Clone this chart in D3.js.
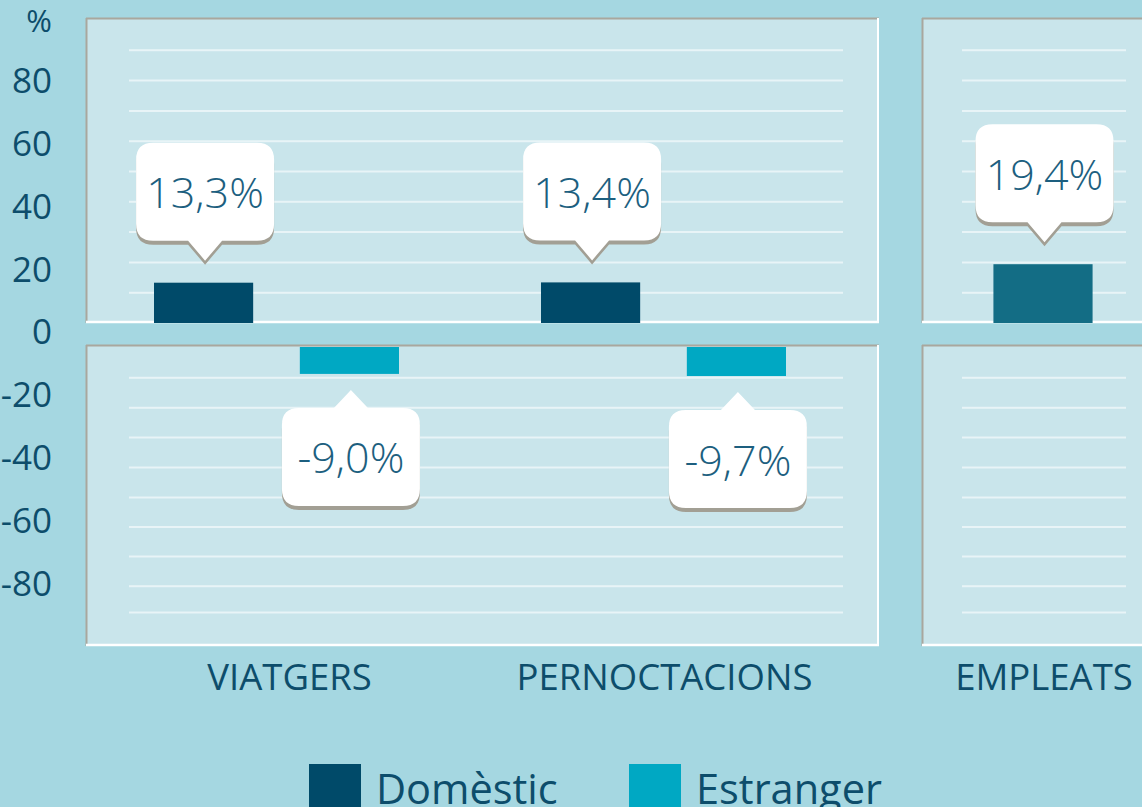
<!DOCTYPE html>
<html>
<head>
<meta charset="utf-8">
<script src="https://cdn.jsdelivr.net/npm/d3@7"></script>
<style>
  html, body { margin: 0; padding: 0; background: #a5d7e1; overflow: hidden; }
  svg { display: block; }
  text { font-family: "Open Sans", sans-serif; }
</style>
</head>
<body>
<svg id="chart" width="1142" height="807"></svg>
<script>
// ---- data ----
const categories = ["VIATGERS", "PERNOCTACIONS", "EMPLEATS"];
const seriesNames = ["Domèstic", "Estranger"];
const domestic = [13.3, 13.4];          // VIATGERS, PERNOCTACIONS
const estranger = [-9.0, -9.7];         // VIATGERS, PERNOCTACIONS
const empleats = [19.4];                // EMPLEATS
const yTickValues = [-80, -60, -40, -20, 0, 20, 40, 60, 80];
const yUnitLabel = "%";

// ---- style ----
const C = {
  bg: "#a5d7e1",
  panel: "#c9e5eb",
  grid: "#e8f4f7",
  borderDark: "#a9a79e",
  borderLight: "#ffffff",
  dom: "#004a69",
  est: "#00a8c3",
  emp: "#136d85",
  text: "#0d4d6b",
  callText: "#1d5f7f",
  shadow: "#a29f94"
};

const svg = d3.select("#chart");
svg.append("rect").attr("width", 1142).attr("height", 807).attr("fill", C.bg);

// vertical scales (two half-panels)
const yTop = d3.scaleLinear().domain([0, 100]).range([323, 20]);
const yBot = d3.scaleLinear().domain([0, -100]).range([347, 646]);
const topY0 = 18, topY1 = 323, botY0 = 345, botY1 = 646;

// label scale for the left axis
const yLab = d3.scaleLinear().domain([-80, 100]).range([582.5, 17.5]);

// panels
const panels = [
  { cats: [categories[0], categories[1]], x0: 86, x1: 879, bandRange: [83, 857], gx0: 129, gx1: 843 },
  { cats: [categories[2]], x0: 922, x1: 1166, bandRange: [922, 1164], gx0: 962, gx1: 1126 }
];
const gridTopVals = d3.range(10, 100, 10);
const gridBotVals = [-10.3, -20.3, -30.3, -40.3, -50.3, -60.2, -70.1, -80, -88.8];

panels.forEach(p => {
  [[topY0, topY1, gridTopVals, yTop], [botY0, botY1, gridBotVals, yBot]].forEach(([a, b, gv, ys]) => {
    const g = svg.append("g");
    g.append("rect").attr("x", p.x0).attr("y", a).attr("width", p.x1 - p.x0).attr("height", b - a).attr("fill", C.panel);
    g.selectAll("line.grid").data(gv).join("line")
      .attr("x1", p.gx0).attr("x2", p.gx1)
      .attr("y1", d => ys(d)).attr("y2", d => ys(d))
      .attr("stroke", C.grid).attr("stroke-width", 2);
    // bevel borders
    g.append("line").attr("x1", p.x0).attr("x2", p.x1).attr("y1", a + 0.5).attr("y2", a + 0.5).attr("stroke", C.borderDark).attr("stroke-width", 2);
    g.append("line").attr("x1", p.x0 + 0.5).attr("x2", p.x0 + 0.5).attr("y1", a).attr("y2", b).attr("stroke", C.borderDark).attr("stroke-width", 2);
    g.append("line").attr("x1", p.x0).attr("x2", p.x1).attr("y1", b - 1).attr("y2", b - 1).attr("stroke", C.borderLight).attr("stroke-width", 2.5);
    g.append("line").attr("x1", p.x1 - 1).attr("x2", p.x1 - 1).attr("y1", a).attr("y2", b).attr("stroke", C.borderLight).attr("stroke-width", 2);
  });
});

// x scales
const xLeft = d3.scaleBand().domain(panels[0].cats).range(panels[0].bandRange);
const xRight = d3.scaleBand().domain(panels[1].cats).range(panels[1].bandRange);
const xSub = d3.scaleBand().domain(seriesNames).range([-122.5, 122.5]).paddingInner(0.32);
const barW = xSub.bandwidth();
const center = c => (xLeft.domain().includes(c) ? xLeft(c) + xLeft.bandwidth() / 2 : xRight(c) + xRight.bandwidth() / 2);

// bar records
const bars = [];
panels[0].cats.forEach((c, i) => {
  bars.push({ cat: c, s: "Domèstic", v: domestic[i], x: center(c) + xSub("Domèstic"), color: C.dom });
  bars.push({ cat: c, s: "Estranger", v: estranger[i], x: center(c) + xSub("Estranger"), color: C.est });
});
panels[1].cats.forEach((c, i) => {
  bars.push({ cat: c, s: "Empleats", v: empleats[i], x: center(c) - barW / 2, color: C.emp });
});

svg.append("g").selectAll("rect").data(bars).join("rect")
  .attr("x", d => d.x)
  .attr("width", barW)
  .attr("y", d => d.v >= 0 ? yTop(d.v) : yBot(0))
  .attr("height", d => d.v >= 0 ? yTop(0) - yTop(d.v) : yBot(d.v) - yBot(0))
  .attr("fill", d => d.color);

// callouts
const locale = d3.formatLocale({ decimal: ",", thousands: ".", grouping: [3], currency: ["", "€"], minus: "-" });
const fmt = v => locale.format(".1f")(v) + "%";
function calloutPath(cx, tipY, up) {
  const w = 138, h = 98, r = 17, ph = up ? 18 : 20, pw = 17;
  const x0 = cx - w / 2, x1 = cx + w / 2;
  if (!up) {
    const yb = tipY - ph, yt = yb - h;
    return `M${x0 + r},${yt} H${x1 - r} Q${x1},${yt} ${x1},${yt + r} V${yb - r} Q${x1},${yb} ${x1 - r},${yb}` +
      ` H${cx + pw} L${cx},${tipY} L${cx - pw},${yb} H${x0 + r} Q${x0},${yb} ${x0},${yb - r} V${yt + r} Q${x0},${yt} ${x0 + r},${yt} Z`;
  } else {
    const yt = tipY + ph, yb = yt + h;
    return `M${x0 + r},${yt} H${cx - pw} L${cx},${tipY} L${cx + pw},${yt} H${x1 - r} Q${x1},${yt} ${x1},${yt + r} V${yb - r} Q${x1},${yb} ${x1 - r},${yb}` +
      ` H${x0 + r} Q${x0},${yb} ${x0},${yb - r} V${yt + r} Q${x0},${yt} ${x0 + r},${yt} Z`;
  }
}
svg.append("g").selectAll("g").data(bars).join("g").each(function (d) {
  const g = d3.select(this);
  const cx = d.x + barW / 2 + 1.5;
  const up = d.v < 0;
  const tipY = up ? yBot(d.v) + 16 : yTop(d.v) - 22;
  const path = calloutPath(cx, tipY, up);
  g.append("path").attr("d", path).attr("fill", C.shadow).attr("transform", "translate(0,4)");
  g.append("path").attr("d", path).attr("fill", "#ffffff");
  const midY = up ? tipY + 18 + 49 : tipY - 20 - 49;
  g.append("text").attr("x", cx).attr("y", midY).attr("text-anchor", "middle")
    .attr("dominant-baseline", "central")
    .attr("font-size", 43).attr("font-weight", 300).attr("fill", C.callText)
    .text(fmt(d.v));
});

// left axis labels
const yAxis = d3.axisLeft(yLab).tickValues(yTickValues.concat([100])).tickSize(0)
  .tickFormat(d => d === 100 ? yUnitLabel : String(d));
const ag = svg.append("g").attr("transform", "translate(52,0)").call(yAxis);
ag.select(".domain").remove();
ag.selectAll("text").attr("font-family", "Open Sans").attr("font-size", 35).attr("fill", C.text)
  .attr("x", 0).attr("dy", "0.36em");
ag.selectAll(".tick").filter(d => d === 100).select("text").attr("font-size", 31).attr("dy", "0.45em");

// category labels
svg.append("g").selectAll("text").data(categories).join("text")
  .attr("x", d => center(d) + (d === "VIATGERS" ? 13 : 1))
  .attr("y", 690)
  .attr("text-anchor", "middle")
  .attr("font-size", 36.5).attr("fill", C.text)
  .text(d => d);

// legend
const legendItems = [{ name: seriesNames[0], color: C.dom, x: 309 }, { name: seriesNames[1], color: C.est, x: 629 }];
const lg = svg.append("g").selectAll("g").data(legendItems).join("g");
lg.append("rect").attr("x", d => d.x).attr("y", 764).attr("width", 52).attr("height", 50).attr("fill", d => d.color);
lg.append("text").attr("x", d => d.x + 67).attr("y", 804).attr("font-size", 41.5).attr("fill", C.text).text(d => d.name);
</script>
</body>
</html>
